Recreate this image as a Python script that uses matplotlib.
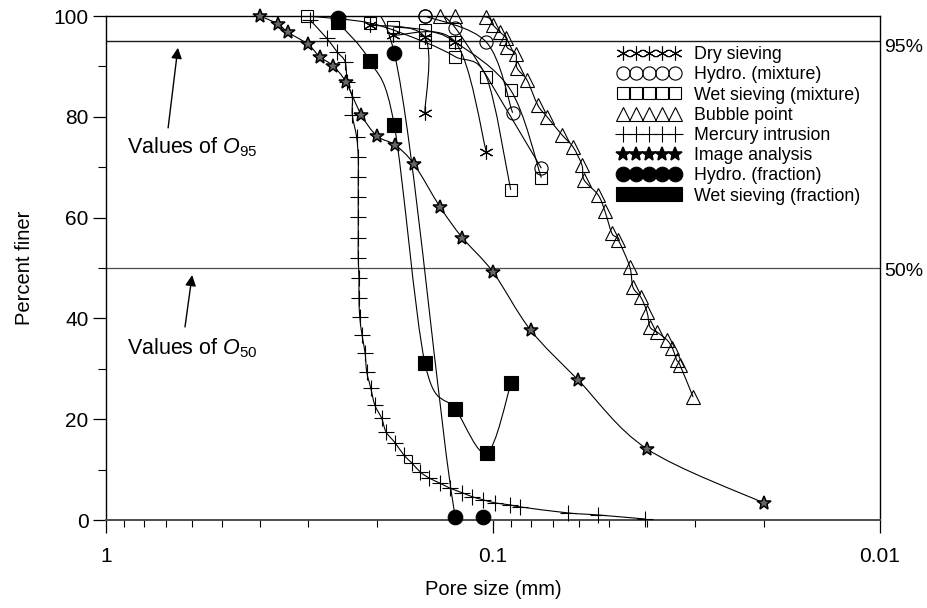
import numpy as np
import matplotlib
matplotlib.use('Agg')
import matplotlib.pyplot as plt
from matplotlib.path import Path
from matplotlib.patches import PathPatch
from matplotlib.lines import Line2D
from matplotlib.ticker import LogLocator, NullFormatter, FixedLocator, MultipleLocator

plt.rcParams['font.family'] = ['Liberation Sans', 'DejaVu Sans']
plt.rcParams['mathtext.fontset'] = 'custom'
plt.rcParams['mathtext.rm'] = 'Liberation Sans'
plt.rcParams['mathtext.it'] = 'Liberation Sans:italic'

# --- data (pore size in mm, percent finer) ---
dry1_x = [0.208, 0.150, 0.150]
dry1_y = [98.2, 95.8, 80.8]
dry2_x = [0.181, 0.125, 0.104]
dry2_y = [96.2, 94.8, 73.0]

hmix1_x = [0.150, 0.104, 0.089]
hmix1_y = [100.0, 94.8, 80.8]
hmix2_x = [0.150, 0.125, 0.075]
hmix2_y = [100.0, 97.6, 69.8]

wmix1_x = [0.303, 0.208, 0.150, 0.125, 0.104, 0.090]
wmix1_y = [100.0, 98.6, 94.8, 91.9, 87.9, 65.5]
wmix2_x = [0.181, 0.150, 0.125, 0.090, 0.075]
wmix2_y = [97.8, 97.2, 94.8, 85.3, 67.9]

bub_x = [0.137, 0.125, 0.104, 0.100, 0.0959, 0.0925, 0.092, 0.0873, 0.0867, 0.0817,
         0.0766, 0.0725, 0.0663, 0.0621, 0.0589, 0.0582, 0.0535, 0.0514, 0.0493, 0.0475,
         0.0443, 0.0435, 0.0415, 0.040, 0.0393, 0.0377, 0.0355, 0.0344, 0.0335, 0.0329, 0.0304]
bub_y = [100.0, 100.0, 99.8, 98.2, 96.8, 95.6, 93.8, 92.5, 89.7, 87.3,
         82.3, 80.0, 76.4, 74.0, 70.4, 67.5, 64.5, 61.3, 56.9, 55.6,
         50.2, 46.2, 44.2, 41.3, 38.3, 37.3, 35.7, 34.1, 31.7, 30.8, 24.4]

hg_x = [0.297, 0.269, 0.253, 0.241, 0.238, 0.231, 0.231, 0.225, 0.223, 0.223,
        0.223, 0.223, 0.223, 0.223, 0.222, 0.222, 0.221, 0.218, 0.214, 0.212,
        0.207, 0.202, 0.194, 0.189, 0.179, 0.170, 0.162, 0.154, 0.146, 0.137,
        0.129, 0.120, 0.113, 0.106, 0.0989, 0.0904, 0.0851, 0.064, 0.0535, 0.0405]
hg_y = [99.2, 95.6, 92.9, 90.9, 86.9, 83.9, 80.4, 75.9, 72.0, 68.1,
        64.1, 60.1, 56.0, 52.0, 48.0, 44.0, 40.3, 36.7, 33.1, 29.4,
        26.2, 22.8, 20.2, 17.5, 15.3, 12.9, 11.3, 9.5, 8.3, 7.3,
        6.3, 5.4, 4.6, 4.0, 3.4, 3.0, 2.6, 1.4, 1.0, 0.2]

img_x = [0.400, 0.359, 0.339, 0.301, 0.280, 0.259, 0.240, 0.219, 0.1995, 0.179,
         0.160, 0.137, 0.120, 0.100, 0.080, 0.0603, 0.040, 0.020]
img_y = [100.0, 98.4, 96.8, 94.4, 91.9, 90.1, 86.9, 80.4, 76.2, 74.4,
         70.6, 62.1, 56.0, 49.2, 37.7, 27.8, 14.1, 3.4]

hfr_x = [0.252, 0.180, 0.125, 0.106]
hfr_y = [99.6, 92.7, 0.5, 0.5]

wfr_x = [0.252, 0.208, 0.180, 0.150, 0.125, 0.1037, 0.0898]
wfr_y = [98.8, 91.1, 78.4, 31.2, 22.0, 13.3, 27.2]

labels = ['Dry sieving', 'Hydro. (mixture)', 'Wet sieving (mixture)', 'Bubble point',
          'Mercury intrusion', 'Image analysis', 'Hydro. (fraction)', 'Wet sieving (fraction)']


def smooth_curve(ax, xs, ys):
    # smoothed line (Bezier, Excel-like) through the points, built in log-x space
    p = np.column_stack([np.log10(xs), ys])
    n = len(p)
    verts = [p[0]]
    codes = [Path.MOVETO]
    for i in range(n - 1):
        a = p[i - 1] if i > 0 else p[i]
        d = p[i + 2] if i + 2 < n else p[i + 1]
        c1 = p[i] + (p[i + 1] - a) / 6.0
        c2 = p[i + 1] - (d - p[i]) / 6.0
        verts += [c1, c2, p[i + 1]]
        codes += [Path.CURVE4] * 3
    verts = np.array(verts)
    verts[:, 0] = 10 ** verts[:, 0]
    ax.add_patch(PathPatch(Path(verts, codes), fill=False, ec='black', lw=0.8, zorder=2))


fig = plt.figure(figsize=(9.28, 6.08), dpi=100)
ax = fig.add_axes([106 / 928, 1 - 520 / 608, 774 / 928, 504 / 608])
ax.set_xscale('log')
ax.set_xlim(1, 0.01)
ax.set_ylim(0, 100)

ax.axhline(95, color='0.1', lw=1.0, zorder=1)
ax.axhline(50, color='0.3', lw=0.9, zorder=1)

styles = {
    'dry': dict(marker=(6, 2, 0), ms=10, mec='black', mfc='none', mew=0.8),
    'hmix': dict(marker='o', ms=9.5, mec='black', mfc='none', mew=0.8),
    'wmix': dict(marker='s', ms=9, mec='black', mfc='none', mew=0.8),
    'bub': dict(marker='^', ms=10, mec='black', mfc='none', mew=0.8),
    'hg': dict(marker='+', ms=11, mec='black', mew=0.8),
    'img': dict(marker='*', ms=10, mec='black', mfc='0.4', mew=1.1),
    'hfr': dict(marker='o', ms=10.5, mec='black', mfc='black', mew=0.8),
    'wfr': dict(marker='s', ms=9.5, mec='black', mfc='black', mew=0.8),
}

series = [
    (dry1_x, dry1_y, 'dry'), (dry2_x, dry2_y, 'dry'),
    (hmix1_x, hmix1_y, 'hmix'), (hmix2_x, hmix2_y, 'hmix'),
    (wmix1_x, wmix1_y, 'wmix'), (wmix2_x, wmix2_y, 'wmix'),
    (bub_x, bub_y, 'bub'), (hg_x, hg_y, 'hg'), (img_x, img_y, 'img'),
    (hfr_x, hfr_y, 'hfr'), (wfr_x, wfr_y, 'wfr'),
]
for xs, ys, key in series:
    smooth_curve(ax, xs, ys)
    ax.plot(xs, ys, linestyle='none', clip_on=False, zorder=3, **styles[key])

# ticks
ax.xaxis.set_major_locator(FixedLocator([1, 0.1, 0.01]))
ax.xaxis.set_major_formatter(plt.FuncFormatter(lambda v, p: {1: '1', 0.1: '0.1', 0.01: '0.01'}.get(round(v, 3), '')))
ax.xaxis.set_minor_locator(LogLocator(base=10, subs=np.arange(2, 10) * 0.1 * 10, numticks=20))
ax.xaxis.set_minor_formatter(NullFormatter())
ax.yaxis.set_major_locator(MultipleLocator(20))
ax.yaxis.set_minor_locator(MultipleLocator(10))
ax.tick_params(axis='x', which='major', direction='out', length=9.5, width=0.9, labelsize=15, pad=10)
ax.tick_params(axis='x', which='minor', direction='out', length=5, width=0.8)
ax.tick_params(axis='y', which='major', direction='out', length=9.5, width=0.9, labelsize=15, pad=3)
ax.tick_params(axis='y', which='minor', direction='out', length=6, width=0.8)
for s in ax.spines.values():
    s.set_linewidth(1.0)
ax.spines['bottom'].set_linewidth(1.4)
ax.spines['bottom'].set_color('0.3')

ax.set_xlabel('Pore size (mm)', fontsize=14.5)
ax.set_ylabel('Percent finer', fontsize=14.5)
ax.xaxis.set_label_coords(0.5, -0.12)
ax.yaxis.set_label_coords(-0.093, 0.5)

# right side labels
ax.text(1.005, 93.8, '95%', transform=ax.get_yaxis_transform(), fontsize=14, va='center', ha='left')
ax.text(1.005, 49.3, '50%', transform=ax.get_yaxis_transform(), fontsize=14, va='center', ha='left')

# annotations
arrow = dict(arrowstyle='-|>', color='black', lw=1.0, mutation_scale=16, shrinkA=0, shrinkB=0)
ax.annotate('', xy=(0.652, 93.7), xytext=(0.691, 77.8), arrowprops=arrow)
ax.annotate('', xy=(0.599, 48.6), xytext=(0.625, 38.3), arrowprops=arrow)
ax.text(0.882, 74.0, r'Values of $\mathit{O_{95}}$', fontsize=15.5, va='center', ha='left')
ax.text(0.882, 34.1, r'Values of $\mathit{O_{50}}$', fontsize=15.5, va='center', ha='left')

# legend
leg_styles = dict(styles)
leg_styles['img'] = dict(styles['img'], mfc='black')
handles = [Line2D([], [], linestyle='none', **leg_styles[k])
           for k in ['dry', 'hmix', 'wmix', 'bub', 'hg', 'img', 'hfr', 'wfr']]
ax.legend(handles, labels, numpoints=5, loc='upper left', bbox_to_anchor=(0.6615, 0.94),
          frameon=False, fontsize=12.8, handlelength=3.5, handletextpad=0.8,
          labelspacing=0.18, borderpad=0, borderaxespad=0)

fig.savefig('out.png', dpi=100)
